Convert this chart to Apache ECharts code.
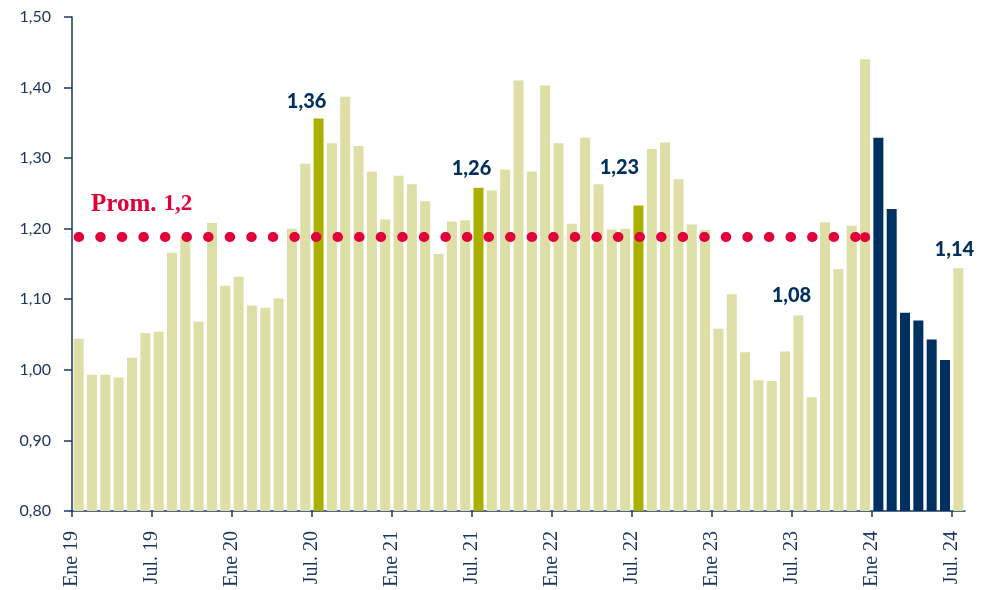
<!DOCTYPE html>
<html>
<head>
<meta charset="utf-8">
<script src="https://cdn.jsdelivr.net/npm/echarts@6/dist/echarts.min.js"></script>
<style>
  html, body { margin: 0; padding: 0; background: #fff; }
  #main { width: 983px; height: 590px; }
</style>
</head>
<body>
<div id="main"></div>
<script>
// datos: enero 2019 - julio 2024
var monthNames = ['Ene', 'Feb', 'Mar', 'Abr', 'May', 'Jun', 'Jul.', 'Ago', 'Sep', 'Oct', 'Nov', 'Dic'];
var years = ['19', '20', '21', '22', '23', '24'];
var tickLabels = ['Ene 19', 'Jul. 19', 'Ene 20', 'Jul. 20', 'Ene 21', 'Jul. 21',
                  'Ene 22', 'Jul. 22', 'Ene 23', 'Jul. 23', 'Ene 24', 'Jul. 24'];
var values = [
    1.044, 0.993, 0.993, 0.989, 1.017, 1.052, 1.054, 1.166, 1.189, 1.068, 1.208, 1.119,
    1.132, 1.091, 1.088, 1.101, 1.200, 1.292, 1.356, 1.321, 1.387, 1.317, 1.281, 1.213,
    1.275, 1.263, 1.239, 1.164, 1.210, 1.212, 1.258, 1.254, 1.284, 1.410, 1.281, 1.403,
    1.321, 1.207, 1.329, 1.263, 1.199, 1.200, 1.233, 1.313, 1.322, 1.270, 1.206, 1.198,
    1.058, 1.107, 1.025, 0.985, 0.984, 1.026, 1.077, 0.961, 1.209, 1.143, 1.204, 1.440,
    1.329, 1.228, 1.081, 1.070, 1.043, 1.014, 1.144
];
var highlightIdx = [18, 30, 42];             // julios destacados
var forecastIdx = [60, 61, 62, 63, 64, 65];  // ene-jun 24
var labeledIdx = [18, 30, 42, 54, 66];
var avgValue = 1.188;
var avgEndIdx = 59;

var months = [];
for (var y = 0; y < years.length; y++) {
    for (var m = 0; m < 12; m++) {
        if (months.length < values.length) months.push(monthNames[m] + ' ' + years[y]);
    }
}
// eje de etiquetas: una posicion por borde de categoria
var boundaries = [];
for (var i = 0; i <= values.length; i++) {
    boundaries.push(i % 6 === 0 && i / 6 < tickLabels.length ? tickLabels[i / 6] : '');
}

var NAVY = '#1b3761';
var TAN = '#dedea7';
var GREEN = '#abb000';
var DARK = '#00305f';
var RED = '#e2003b';

// desplazamiento de cada etiqueta [dx, dy]
var labelOffsets = { 18: [-12, -7], 30: [-7, -9], 42: [-19, -28], 54: [-7, -10], 66: [-4, -9] };

var barData = values.map(function (v, i) {
    var color = TAN;
    if (highlightIdx.indexOf(i) >= 0) color = GREEN;
    if (forecastIdx.indexOf(i) >= 0) color = DARK;
    var item = { value: v, itemStyle: { color: color } };
    if (labeledIdx.indexOf(i) >= 0) {
        item.label = {
            show: true,
            position: 'top',
            distance: 0,
            offset: labelOffsets[i],
            formatter: function (p) { return p.value.toFixed(2).replace('.', ','); },
            color: DARK,
            fontFamily: 'Lato',
            fontWeight: 900,
            fontSize: 20
        };
    }
    return item;
});

var chart = echarts.init(document.getElementById('main'), null, { renderer: 'canvas' });

var option = {
    animation: false,
    backgroundColor: '#ffffff',
    grid: { left: 72, right: 18, top: 17, bottom: 78, containLabel: false },
    xAxis: [
        {
            type: 'category',
            data: months,
            position: 'bottom',
            axisLine: { show: true, lineStyle: { color: NAVY, width: 1.5 } },
            axisTick: { show: false },
            axisLabel: { show: false }
        },
        {
            type: 'category',
            data: boundaries,
            boundaryGap: false,
            position: 'bottom',
            axisLine: { show: false },
            axisTick: {
                show: true,
                length: 6,
                interval: function (idx) { return idx % 6 === 0 && idx < values.length; },
                lineStyle: { color: NAVY, width: 1.5 }
            },
            axisLabel: {
                interval: function (idx) { return idx % 6 === 0; },
                rotate: 90,
                margin: 20,
                color: NAVY,
                fontFamily: 'Liberation Serif',
                fontSize: 20
            },
            splitLine: { show: false }
        }
    ],
    yAxis: {
        type: 'value',
        min: 0.8,
        max: 1.5,
        interval: 0.1,
        axisLine: { show: true, lineStyle: { color: NAVY, width: 1.5 } },
        axisTick: { show: true, length: 8, lineStyle: { color: NAVY, width: 1.5 } },
        axisLabel: {
            margin: 21,
            color: NAVY,
            fontFamily: 'Lato',
            fontSize: 16,
            formatter: function (v) { return v.toFixed(2).replace('.', ','); }
        },
        splitLine: { show: false }
    },
    series: [
        {
            type: 'bar',
            xAxisIndex: 0,
            barWidth: 10,
            data: barData,
            markLine: {
                silent: true,
                symbol: ['none', 'circle'],
                symbolSize: 10,
                label: { show: false },
                lineStyle: { color: RED, width: 10, type: [0.5, 21.07], cap: 'round', opacity: 1 },
                emphasis: { disabled: true },
                data: [[{ coord: [0, avgValue] }, { coord: [avgEndIdx, avgValue] }]]
            }
        }
    ],
    graphic: [
        {
            type: 'text',
            left: 91,
            top: 192,
            style: {
                text: '{a|Prom.}{b|1,2}',
                rich: {
                    a: { fontFamily: 'Liberation Serif', fontWeight: 'bold', fontSize: 25, fill: RED, color: RED },
                    b: { fontFamily: 'Liberation Serif', fontWeight: 'bold', fontSize: 23, fill: RED, color: RED, padding: [0, 0, 0, 7] }
                }
            }
        }
    ]
};

chart.setOption(option);
</script>
</body>
</html>
